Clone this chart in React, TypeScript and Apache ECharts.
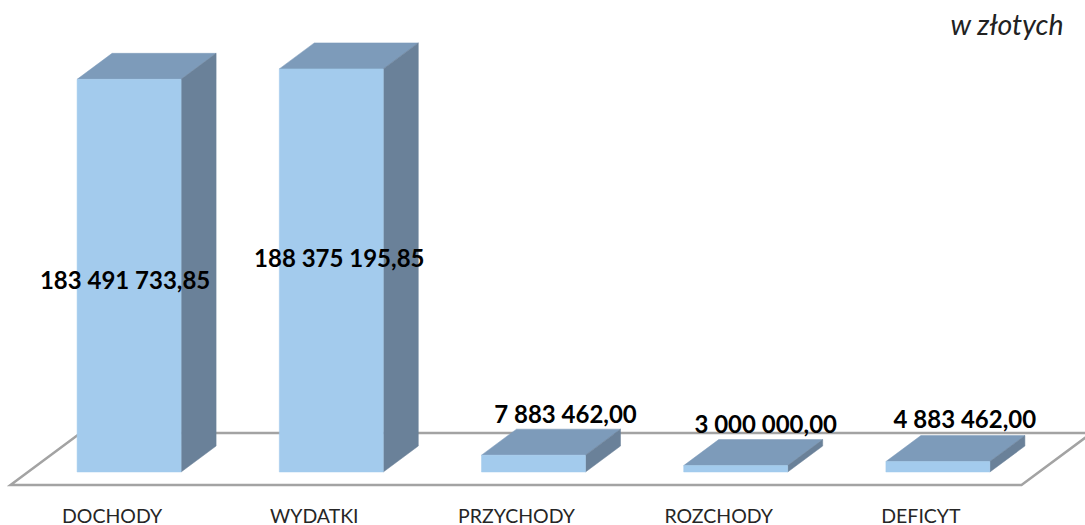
import React, { useEffect, useRef } from "react";
import * as echarts from "echarts";

const categories = ["DOCHODY", "WYDATKI", "PRZYCHODY", "ROZCHODY", "DEFICYT"];
const values = [183491733.85, 188375195.85, 7883462.0, 3000000.0, 4883462.0];
const labelDx = [-4, 8, 32, 30, 27];
const labelY = [279, 257, 413, 423, 418];
const unitLabel = "w złotych";

const DEPTH_X = 35;
const DEPTH_Y = 26;
const BAR_W = 104;
const FRONT = "#A3CBED";
const TOP = "#7D9BBA";
const SIDE = "#6A8199";
const FLOOR = "#A3A3A3";
const FONT = "Lato, 'Open Sans', sans-serif";

function fmt(v: number) {
  const [i, d] = v.toFixed(2).split(".");
  return i.replace(/\B(?=(\d{3})+$)/g, " ") + "," + d;
}

function renderBar(params: any, api: any) {
  const idx = api.value(0);
  const val = api.value(1);
  const top = api.coord([idx, val]);
  const base = api.coord([idx, 0]);
  const l = top[0] - BAR_W / 2;
  const r = top[0] + BAR_W / 2;
  const t = top[1];
  const b = base[1];
  const poly = (points: number[][], fill: string) => ({
    type: "polygon",
    shape: { points },
    style: { fill, stroke: fill, lineWidth: 0.5 },
  });
  return {
    type: "group",
    children: [
      poly([[l, t], [r, t], [r + DEPTH_X, t - DEPTH_Y], [l + DEPTH_X, t - DEPTH_Y]], TOP),
      poly([[r, t], [r + DEPTH_X, t - DEPTH_Y], [r + DEPTH_X, b - DEPTH_Y], [r, b]], SIDE),
      poly([[l, t], [r, t], [r, b], [l, b]], FRONT),
      {
        type: "text",
        z2: 100,
        style: {
          x: top[0] + labelDx[params.dataIndex],
          y: labelY[params.dataIndex],
          text: fmt(val),
          fill: "#000",
          font: `bold 24px ${FONT}`,
          align: "center",
          verticalAlign: "middle",
        },
      },
    ],
  };
}

function renderFloor(params: any, api: any) {
  const cs = params.coordSys;
  const y = cs.y + cs.height;
  const xl = cs.x - DEPTH_X / 2;
  const xr = cs.x + cs.width - DEPTH_X / 2;
  const yf = y + DEPTH_Y / 2;
  const yb = y - DEPTH_Y / 2 - 26;
  const dx = ((yf - yb) * DEPTH_X) / DEPTH_Y;
  return {
    type: "polygon",
    shape: { points: [[xl, yf], [xr, yf], [xr + dx, yb], [xl + dx, yb]] },
    style: { fill: "none", stroke: FLOOR, lineWidth: 2.5 },
  };
}

export default function App() {
  const ref = useRef<HTMLDivElement>(null);
  useEffect(() => {
    const chart = echarts.init(ref.current!, undefined, { renderer: "svg" });
    chart.setOption({
      animation: false,
      backgroundColor: "#fff",
      title: {
        text: unitLabel,
        right: 16,
        top: 4,
        textStyle: { fontFamily: FONT, fontStyle: "italic", fontWeight: "normal", fontSize: 28.5, color: "#222" },
      },
      grid: { left: 28, right: 46, top: 44, bottom: 53 },
      xAxis: {
        type: "category",
        data: categories,
        axisLine: { show: false },
        axisTick: { show: false },
        axisLabel: {
          interval: 0,
          margin: 33,
          color: "#262626",
          fontFamily: FONT,
          fontSize: 19.5,
          padding: [0, 34, 0, 0],
        },
      },
      yAxis: { type: "value", min: 0, max: 200000000, show: false },
      series: [
        {
          type: "custom",
          silent: true,
          clip: false,
          data: [[0, 0]],
          renderItem: renderFloor,
          encode: { x: 0, y: 1 },
          z: 1,
        },
        {
          type: "custom",
          silent: true,
          clip: false,
          data: values.map((v, i) => [i, v]),
          renderItem: renderBar,
          encode: { x: 0, y: 1 },
          z: 2,
        },
      ],
    });
    return () => chart.dispose();
  }, []);
  return <div ref={ref} style={{ position: "fixed", left: 0, top: 0, width: 1085, height: 525 }} />;
}
